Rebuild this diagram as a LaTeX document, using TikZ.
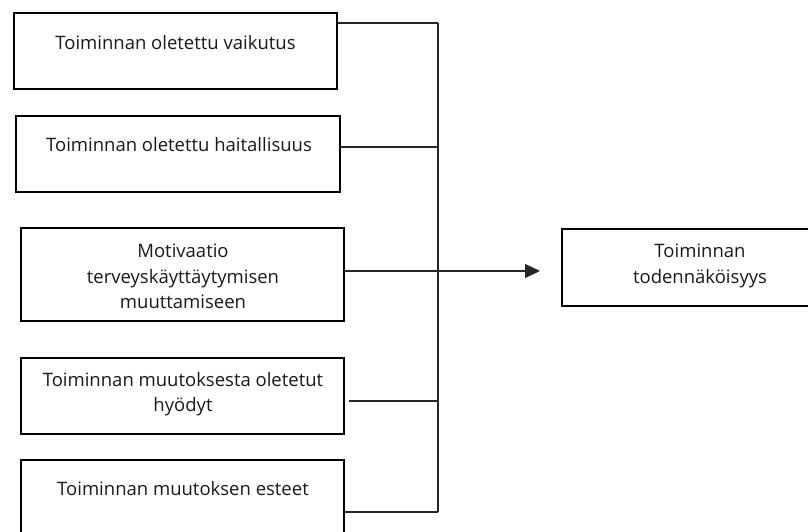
\documentclass[tikz,border=0pt]{standalone}
\usepackage{fontspec}
\setmainfont{Open Sans}
\usetikzlibrary{arrows.meta}
\begin{document}
\begin{tikzpicture}[x=1pt,y=-1pt,
  box/.style={draw=black,line width=2pt,rectangle,inner sep=0pt},
  txt/.style={font=\fontsize{18.5}{25.5}\selectfont,text=black!90,align=center,inner sep=0pt},
  wire/.style={draw=black!85,line width=1.2pt}]
\useasboundingbox (0,0) rectangle (808,531);

% factor boxes
\node[box,minimum width=323pt,minimum height=76pt] (b1) at (175.5,51) {};
\node[box,minimum width=324pt,minimum height=76pt] (b2) at (178,154) {};
\node[box,minimum width=323pt,minimum height=93pt] (b3) at (182.5,274.5) {};
\node[box,minimum width=323pt,minimum height=76pt] (b4) at (182.5,396) {};
\node[box,minimum width=323pt,minimum height=85pt] (b5) at (182.5,502.5) {};
% outcome box
\node[box,minimum width=256pt,minimum height=77pt] (t) at (690,267.5) {};

% labels
\node[txt] (b1t) at (175.5,43) {Toiminnan oletettu vaikutus};
\node[txt] (b2t) at (179,145) {Toiminnan oletettu haitallisuus};
\node[txt] (b3t) at (183,276.5) {Motivaatio\\terveyskäyttäytymisen\\muuttamiseen};
\node[txt] (b4t) at (183,394) {Toiminnan muutoksesta oletetut\\hyödyt};
\node[txt] (b5t) at (183,489) {Toiminnan muutoksen esteet};
\node[txt] (tt) at (700,266) {Toiminnan\\todennäköisyys};

% collector bus
\coordinate (j1) at (438,23);
\coordinate (j2) at (438,147);
\coordinate (j3) at (438,271);
\coordinate (j4) at (438,401);
\coordinate (j5) at (438,512);
\coordinate (tip) at (540,271);

\draw[wire] (j1) -- (j5);
\draw[wire] (j1 -| b1.east) -- (j1);
\draw[wire] (j2 -| b2.east) -- (j2);
\draw[wire] ([xshift=4pt]j4 -| b4.east) -- (j4);
\draw[wire] (j5 -| b5.east) -- (j5);
\draw[wire,-{Triangle[length=15pt,width=14pt]}] (j3 -| b3.east) -- (tip);
\end{tikzpicture}
\end{document}
